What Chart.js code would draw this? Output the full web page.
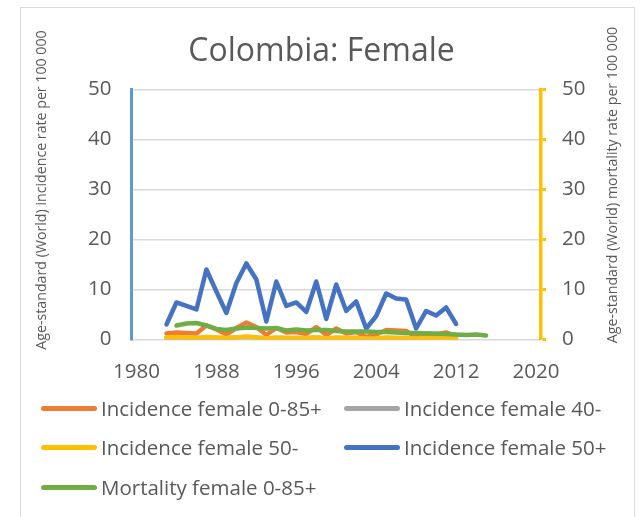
<!DOCTYPE html>
<html>
<head>
<meta charset="utf-8">
<script src="https://cdn.jsdelivr.net/npm/chart.js@4.4.1/dist/chart.umd.min.js"></script>
<style>
    html, body { margin: 0; padding: 0; background: #fff; }
    #wrap { position: relative; width: 643px; height: 517px; overflow: hidden; font-family: "Open Sans", sans-serif; }
    #frame { position: absolute; left: 20px; top: 7px; width: 613px; height: 530px; border: 1px solid #D9D9D9; }
    #chart { position: absolute; left: 0; top: 0; }
    .legend-item { position: absolute; display: flex; align-items: center; color: #595959; font-size: 20.5px; white-space: nowrap; }
    .legend-item span.swatch { display: inline-block; width: 56px; height: 5px; border-radius: 3px; margin-right: 4px; }
</style>
</head>
<body>
<div id="wrap">
    <div id="frame"></div>
    <canvas id="chart" width="643" height="517"></canvas>
    <div id="legend"></div>
</div>
<script>
const chartTitle = "Colombia: Female";
const leftTitle = "Age-standard (World) incidence rate per 100 000";
const rightTitle = "Age-standard (World) mortality rate per 100 000";

const xTicks = [1980, 1988, 1996, 2004, 2012, 2020];
const yTicks = [0, 10, 20, 30, 40, 50];

// incidence series, 1983-2012
const incYears = [1983,1984,1985,1986,1987,1988,1989,1990,1991,1992,1993,1994,1995,1996,1997,
                  1998,1999,2000,2001,2002,2003,2004,2005,2006,2007,2008,2009,2010,2011,2012];
const incAll   = [1.2,1.4,1.3,1.2,2.8,2.0,1.0,2.3,3.4,2.5,0.9,2.3,1.4,1.5,1.1,
                  2.5,0.9,2.2,1.2,1.5,0.5,1.0,1.9,1.8,1.7,0.5,1.2,1.0,1.4,0.7];
const inc40    = [0.3,0.4,0.3,0.3,0.4,0.3,0.3,0.4,0.5,0.4,0.2,0.3,0.3,0.3,0.3,
                  0.4,0.2,0.3,0.3,0.3,0.2,0.2,0.3,0.3,0.3,0.2,0.3,0.2,0.3,0.2];
const inc50m   = [0.4,0.5,0.4,0.3,0.5,0.4,0.3,0.4,0.6,0.4,0.2,0.4,0.3,0.3,0.3,
                  0.4,0.2,0.4,0.3,0.3,0.2,0.2,0.4,0.3,0.3,0.2,0.3,0.2,0.3,0.2];
const inc50p   = [3.0,7.4,6.7,6.0,14.0,9.6,5.3,11.3,15.2,12.0,3.6,11.6,6.7,7.4,5.5,
                  11.6,4.1,11.0,5.7,7.6,2.2,4.7,9.2,8.2,8.0,2.2,5.7,4.8,6.4,3.1];

// mortality, 1984-2015
const mortYears = [1984,1985,1986,1987,1988,1989,1990,1991,1992,1993,1994,1995,1996,1997,1998,1999,
                   2000,2001,2002,2003,2004,2005,2006,2007,2008,2009,2010,2011,2012,2013,2014,2015];
const mortAll   = [2.8,3.2,3.3,2.8,2.1,1.9,2.2,2.4,2.3,2.2,2.3,1.8,2.0,1.8,1.9,1.9,
                   1.7,1.6,1.6,1.6,1.5,1.5,1.4,1.3,1.3,1.2,1.2,1.1,1.0,0.9,1.0,0.8];

const labels = ["Incidence female 0-85+", "Incidence female 40-", "Incidence female 50-",
                "Incidence female 50+", "Mortality female 0-85+"];
const colors = ["#ED7D31", "#A5A5A5", "#FFC000", "#4472C4", "#70AD47"];

const textColor = "#595959";
const fontFamily = "'Open Sans', sans-serif";

function pts(xs, ys) {
    return xs.map((x, i) => ({ x: x, y: ys[i] }));
}

// later series sit on top, like in the spreadsheet
function lineSet(i, data, axis) {
    return {
        label: labels[i],
        data: data,
        yAxisID: axis,
        order: labels.length - i,
        borderColor: colors[i],
        backgroundColor: colors[i],
        borderWidth: 4.5,
        pointRadius: 0,
        tension: 0,
        borderCapStyle: "round",
        borderJoinStyle: "round"
    };
}

// draws the two rotated axis titles where the original puts them
const axisTitles = {
    id: "axisTitles",
    afterDraw(chart) {
        const ctx = chart.ctx;
        [[leftTitle, 42, 190], [rightTitle, 613, 185]].forEach(t => {
            ctx.save();
            ctx.fillStyle = textColor;
            ctx.font = "14.2px " + fontFamily;
            ctx.textAlign = "center";
            ctx.textBaseline = "middle";
            ctx.translate(t[1], t[2]);
            ctx.rotate(-Math.PI / 2);
            ctx.fillText(t[0], 0, 0);
            ctx.restore();
        });
    }
};

const chart = new Chart(document.getElementById("chart"), {
    type: "line",
    data: {
        datasets: [
            lineSet(0, pts(incYears, incAll), "y"),
            lineSet(1, pts(incYears, inc40), "y"),
            lineSet(2, pts(incYears, inc50m), "y"),
            lineSet(3, pts(incYears, inc50p), "y"),
            lineSet(4, pts(mortYears, mortAll), "y2")
        ]
    },
    options: {
        responsive: false,
        animation: false,
        layout: { padding: { left: 0, right: 0, top: 0, bottom: 127.5 } },
        scales: {
            x: {
                type: "linear",
                min: 1979.5,
                max: 2020.5,
                afterBuildTicks: s => { s.ticks = xTicks.map(v => ({ value: v })); },
                afterFit: s => { s.height = 50; },
                grid: { display: false, drawTicks: false },
                border: { display: false },
                ticks: {
                    color: textColor,
                    font: { family: fontFamily, size: 20.5 },
                    padding: 20,
                    maxRotation: 0,
                    callback: v => String(v)
                }
            },
            y: {
                position: "left",
                min: 0,
                max: 50,
                afterBuildTicks: s => { s.ticks = yTicks.map(v => ({ value: v })); },
                afterFit: s => { s.width = 131.5; },
                grid: { color: "#D9D9D9", lineWidth: 1.5, drawTicks: false },
                border: { display: true, color: "#5B9BD5", width: 3 },
                ticks: {
                    color: textColor,
                    font: { family: fontFamily, size: 20.5 },
                    padding: 20
                }
            },
            y2: {
                position: "right",
                min: 0,
                max: 50,
                afterBuildTicks: s => { s.ticks = yTicks.map(v => ({ value: v })); },
                afterFit: s => { s.width = 102; },
                grid: { drawOnChartArea: false, drawTicks: true, tickLength: 5, tickColor: "#FFC000", tickWidth: 3 },
                border: { display: true, color: "#FFC000", width: 3.5 },
                ticks: {
                    color: textColor,
                    font: { family: fontFamily, size: 20.5 },
                    padding: 16
                }
            }
        },
        plugins: {
            legend: { display: false },
            tooltip: { enabled: false },
            title: {
                display: true,
                text: chartTitle,
                color: textColor,
                font: { family: fontFamily, size: 32, weight: "normal" },
                padding: { top: 33, bottom: 18 }
            }
        }
    },
    plugins: [axisTitles]
});

// legend laid out in two columns like the original
const legendPos = [
    { x: 41, y: 408 }, { x: 344, y: 408 },
    { x: 41, y: 447 }, { x: 344, y: 447 },
    { x: 41, y: 487 }
];
const legendBox = document.getElementById("legend");
chart.data.datasets.forEach((ds, i) => {
    const item = document.createElement("div");
    item.className = "legend-item";
    item.style.left = legendPos[i].x + "px";
    item.style.top = (legendPos[i].y - 15) + "px";
    item.style.height = "30px";
    item.innerHTML = '<span class="swatch" style="background:' + ds.borderColor + '"></span>' + ds.label;
    legendBox.appendChild(item);
});
</script>
</body>
</html>
